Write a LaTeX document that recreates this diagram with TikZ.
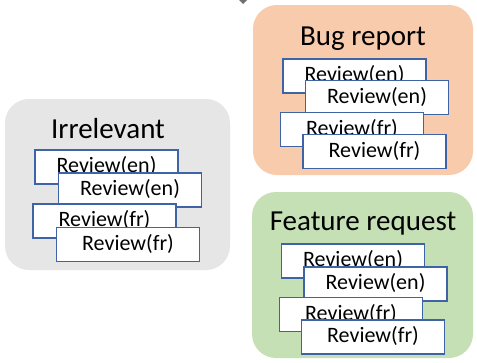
\documentclass[tikz,border=0pt]{standalone}
\usepackage{fontspec}
\setmainfont{Carlito}
\definecolor{grpgray}{HTML}{E6E6E6}
\definecolor{grporange}{HTML}{F8CBAD}
\definecolor{grpgreen}{HTML}{C5E0B4}
\definecolor{revblue}{HTML}{3F64A6}
\definecolor{tipgray}{HTML}{707070}
\tikzset{
  group/.style={rounded corners=24pt, draw=none},
  grouptitle/.style={font=\fontsize{29}{34}\selectfont, inner sep=0pt, anchor=base},
  revbox/.style={draw=revblue, fill=white, line width=1.3pt,
    minimum width=143pt, minimum height=34pt, inner sep=0pt,
    text height=15pt, text depth=4pt,
    font=\fontsize{22}{26}\selectfont},
}
\begin{document}
\begin{tikzpicture}[x=1pt,y=-1pt]
\useasboundingbox (0,0) rectangle (477,362);
\fill[white] (0,0) rectangle (477,362);

% small arrow tip entering from the top edge
\fill[tipgray] (239,0) -- (247,0) -- (243,4) -- cycle;

% group backgrounds
\fill[group, grpgray]   (5,99)   rectangle (230,270);
\fill[group, grporange] (253,5)  rectangle (473,175);
\fill[group, grpgreen]  (252,192) rectangle (473,358);

% group titles (placed on their baselines)
\node[grouptitle] (tIrr) at (108,138) {Irrelevant};
\node[grouptitle] (tBug) at (363,45) {Bug report};
\node[grouptitle] (tFeat) at (363,230) {Feature request};

% Irrelevant stack
\node[revbox] (i1) at (106.5,167) {Review(en)};
\node[revbox] (i2) at (130,190) {Review(en)};
\node[revbox] (i3) at (104.5,221) {Review(fr)};
\node[revbox] (i4) at (128,244.5) {Review(fr)};

% Bug report stack
\node[revbox] (b1) at (354.5,76) {Review(en)};
\node[revbox] (b2) at (377,97.5) {Review(en)};
\node[revbox] (b3) at (352,129.5) {Review(fr)};
\node[revbox] (b4) at (374.5,151.5) {Review(fr)};

% Feature request stack
\node[revbox] (f1) at (353,261) {Review(en)};
\node[revbox] (f2) at (375.5,284) {Review(en)};
\node[revbox] (f3) at (351,314.5) {Review(fr)};
\node[revbox] (f4) at (373,337) {Review(fr)};
\end{tikzpicture}
\end{document}
